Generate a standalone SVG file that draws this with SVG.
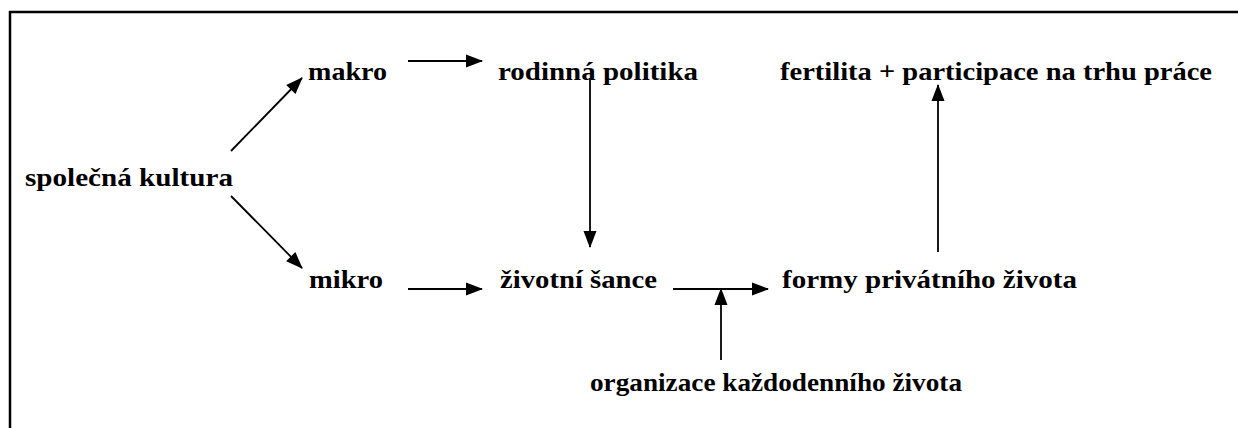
<svg xmlns="http://www.w3.org/2000/svg" width="1238" height="428" viewBox="0 0 1238 428">
<style>
.t{font-family:"Liberation Serif","Times New Roman",serif;font-weight:bold;font-size:25px;fill:#000}
.c line{stroke:#000;stroke-width:1.8;marker-end:url(#ah)}
</style>
<defs>
<marker id="ah" markerUnits="userSpaceOnUse" markerWidth="18" markerHeight="14" refX="16" refY="6.5" orient="auto" overflow="visible">
<path d="M0,0 L17,6.5 L0,13 z" fill="#000"/>
</marker>
</defs>
<rect width="1238" height="428" fill="#fff"/>
<path d="M10,428 V12 H1238" fill="none" stroke="#000" stroke-width="2.5"/>
<g id="n-spolecna"><text class="t" x="25" y="186" textLength="208" lengthAdjust="spacingAndGlyphs">společná kultura</text></g>
<g id="n-makro"><text class="t" x="308" y="80" textLength="79" lengthAdjust="spacingAndGlyphs">makro</text></g>
<g id="n-mikro"><text class="t" x="309" y="288" textLength="74" lengthAdjust="spacingAndGlyphs">mikro</text></g>
<g id="n-rodinna"><text class="t" x="498" y="80" textLength="200" lengthAdjust="spacingAndGlyphs">rodinná politika</text></g>
<g id="n-zivotni"><text class="t" x="500" y="288" textLength="157" lengthAdjust="spacingAndGlyphs">životní šance</text></g>
<g id="n-formy"><text class="t" x="782" y="288" textLength="295" lengthAdjust="spacingAndGlyphs">formy privátního života</text></g>
<g id="n-fertilita"><text class="t" x="780" y="80" textLength="432" lengthAdjust="spacingAndGlyphs">fertilita + participace na trhu práce</text></g>
<g id="n-organizace"><text class="t" x="590" y="391" textLength="372" lengthAdjust="spacingAndGlyphs">organizace každodenního života</text></g>
<g id="connectors" class="c">
<line x1="231" y1="151" x2="302" y2="78"/>
<line x1="231" y1="196" x2="302" y2="268"/>
<line x1="408" y1="61" x2="482" y2="61"/>
<line x1="408" y1="289" x2="482" y2="289"/>
<line x1="590" y1="78" x2="590" y2="247"/>
<line x1="673" y1="289" x2="768" y2="289"/>
<line x1="721" y1="360" x2="721" y2="289"/>
<line x1="938" y1="252" x2="938" y2="85"/>
</g>
</svg>
